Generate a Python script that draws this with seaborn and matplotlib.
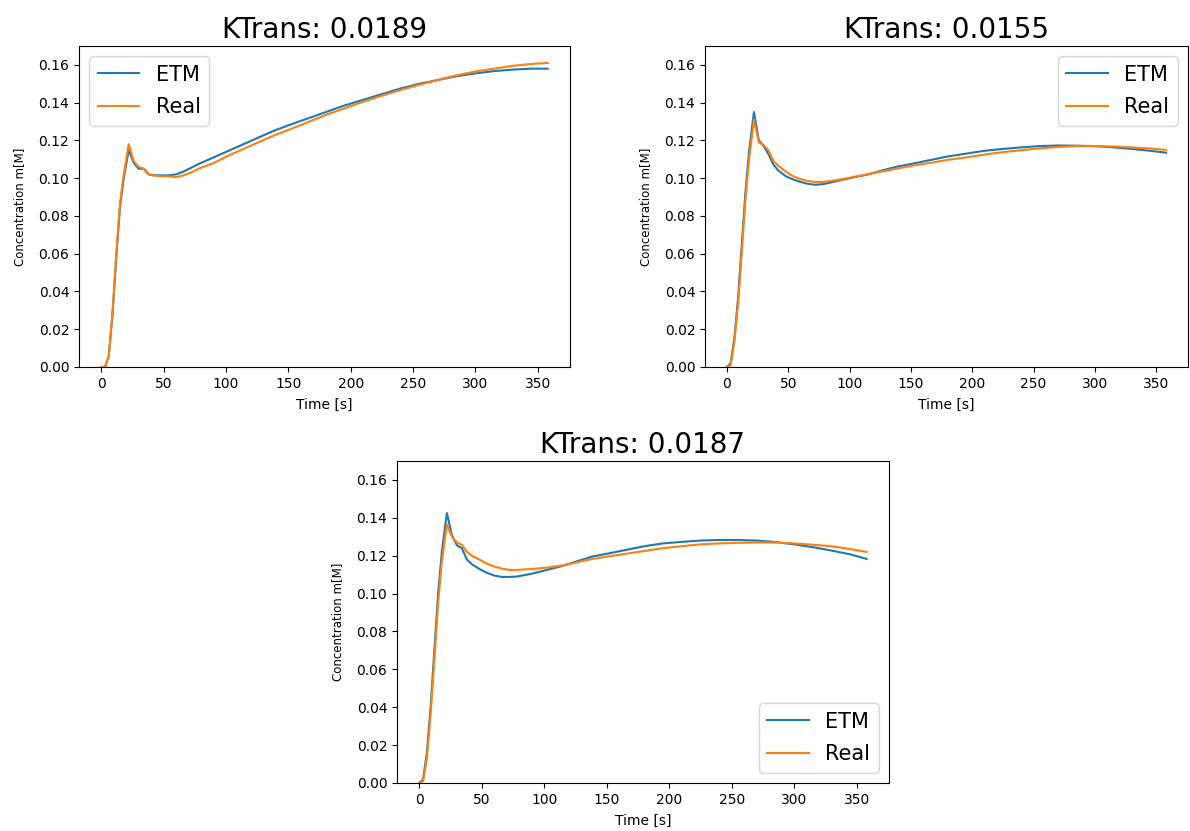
import pandas as pd
import matplotlib
matplotlib.use("Agg")
import matplotlib.pyplot as plt
import seaborn as sns

# time axis (s), shared by all three fits
time_s = [0, 3, 6, 9, 12, 15, 18, 22, 26, 30, 34, 38, 42, 48, 54, 60, 66, 72, 78,
          90, 102, 114, 126, 138, 150, 165, 180, 195, 210, 225, 240, 255, 270, 285,
          300, 315, 330, 345, 358]

ktrans = ["0.0189", "0.0155", "0.0187"]

etm_1 = [0, 0.0, 0.006, 0.028, 0.058, 0.085, 0.100, 0.115, 0.108, 0.105, 0.105, 0.102,
         0.1015, 0.1015, 0.1015, 0.102, 0.1035, 0.1055, 0.1075, 0.111, 0.1145, 0.118,
         0.1215, 0.125, 0.128, 0.1315, 0.135, 0.1385, 0.1415, 0.1445, 0.1475, 0.150,
         0.152, 0.154, 0.1555, 0.1567, 0.1575, 0.158, 0.158]
real_1 = [0, 0.0, 0.006, 0.029, 0.060, 0.087, 0.102, 0.118, 0.109, 0.106, 0.105, 0.102,
          0.1015, 0.101, 0.101, 0.1005, 0.1015, 0.103, 0.105, 0.108, 0.112, 0.1155,
          0.119, 0.1225, 0.1255, 0.1295, 0.1335, 0.137, 0.1405, 0.1437, 0.1467, 0.1495,
          0.152, 0.1545, 0.1565, 0.158, 0.1595, 0.1605, 0.161]

etm_2 = [0, 0.002, 0.015, 0.036, 0.064, 0.092, 0.114, 0.135, 0.120, 0.117, 0.1125,
         0.107, 0.104, 0.101, 0.0993, 0.098, 0.097, 0.0965, 0.0968, 0.0985, 0.1003,
         0.1018, 0.104, 0.106, 0.1075, 0.1095, 0.1115, 0.113, 0.1145, 0.1155, 0.1163,
         0.117, 0.1173, 0.1172, 0.117, 0.1163, 0.1155, 0.1145, 0.1135]
real_2 = [0, 0.001, 0.013, 0.033, 0.060, 0.088, 0.110, 0.131, 0.119, 0.1175, 0.1145,
          0.109, 0.1065, 0.1035, 0.101, 0.0995, 0.0985, 0.098, 0.098, 0.099, 0.1005,
          0.102, 0.1035, 0.105, 0.1065, 0.108, 0.1097, 0.111, 0.1125, 0.1138, 0.1148,
          0.1158, 0.1165, 0.117, 0.117, 0.1168, 0.1163, 0.1157, 0.115]

etm_3 = [0, 0.002, 0.016, 0.040, 0.070, 0.100, 0.122, 0.1425, 0.131, 0.1255, 0.124,
         0.118, 0.1155, 0.113, 0.111, 0.1095, 0.1088, 0.1088, 0.109, 0.1105, 0.1125,
         0.1145, 0.117, 0.1195, 0.121, 0.123, 0.125, 0.1265, 0.1273, 0.128, 0.1283,
         0.1283, 0.128, 0.1272, 0.126, 0.1245, 0.1227, 0.1207, 0.1183]
real_3 = [0, 0.001, 0.013, 0.036, 0.065, 0.095, 0.117, 0.1365, 0.130, 0.127, 0.1258,
          0.122, 0.120, 0.118, 0.1158, 0.1143, 0.1132, 0.1125, 0.1125, 0.113, 0.1137,
          0.1148, 0.1165, 0.1182, 0.1195, 0.121, 0.1225, 0.124, 0.125, 0.126, 0.1265,
          0.1268, 0.127, 0.127, 0.1265, 0.1258, 0.125, 0.1235, 0.122]

series = [(etm_1, real_1), (etm_2, real_2), (etm_3, real_3)]
legend_loc = ["upper left", "upper right", "lower right"]

W, H = 1190, 831
fig = plt.figure(figsize=(W / 100, H / 100), dpi=100)
boxes = [(79, 46, 570, 367), (705, 46, 1188, 367), (397, 461, 889, 783)]

for i, (etm, real) in enumerate(series):
    x0, y0, x1, y1 = boxes[i]
    ax = fig.add_axes([x0 / W, 1 - y1 / H, (x1 - x0) / W, (y1 - y0) / H])
    df = pd.DataFrame({"t": time_s, "ETM": etm, "Real": real})
    sns.lineplot(data=df, x="t", y="ETM", ax=ax, color="tab:blue", label="ETM", linewidth=1.5)
    sns.lineplot(data=df, x="t", y="Real", ax=ax, color="tab:orange", label="Real", linewidth=1.5)
    ax.set_ylim(0, 0.17)
    ax.set_yticks([0, 0.02, 0.04, 0.06, 0.08, 0.10, 0.12, 0.14, 0.16])
    ax.set_xticks([0, 50, 100, 150, 200, 250, 300, 350])
    ax.set_xlabel("Time [s]", fontsize=10, labelpad=5)
    ax.set_ylabel("Concentration m[M]", fontsize=8.5, labelpad=9)
    ax.set_title("KTrans: " + ktrans[i], fontsize=20)
    ax.tick_params(labelsize=10)
    ax.legend(loc=legend_loc[i], fontsize=15, labelspacing=0.6)

fig.savefig("out.png", dpi=100)
